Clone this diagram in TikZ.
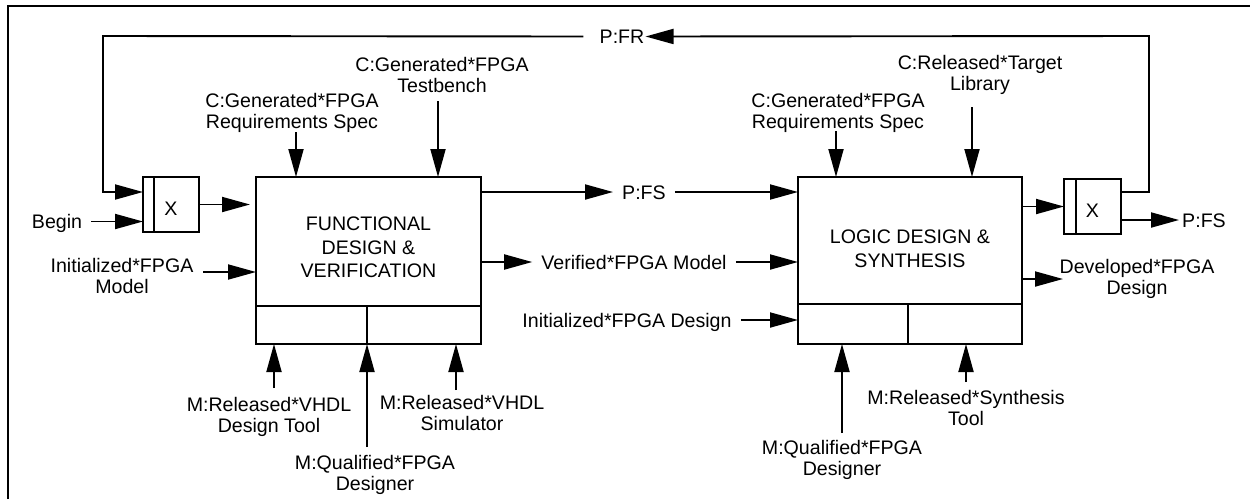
\documentclass[tikz,border=0pt]{standalone}
\usepackage{fontspec}
\setmainfont{Liberation Sans}
\usetikzlibrary{arrows.meta}

\tikzset{
  lbl/.style={align=center, inner sep=0pt, font=\fontsize{19.6pt}{21pt}\selectfont},
  lbl1/.style={lbl, text height=14pt, text depth=0pt},
  mid/.style={lbl1, inner xsep=9pt},
  ttl/.style={lbl, font=\fontsize{19.6pt}{23.5pt}\selectfont},
  blk/.style={draw, line width=1.9pt, inner sep=0pt, outer sep=0pt},
  ln/.style={line width=1.9pt},
  arr/.style={ln, -{Triangle[length=28pt, width=15pt]}}
}

\begin{document}
\begin{tikzpicture}[x=1pt, y=-1pt]
\useasboundingbox (0,0) rectangle (1250,499);
%\draw[step=50,gray,very thin] (0,0) grid (1250,499);

\draw[ln] (8,499) -- (8,6) -- (1250,6);

% activity boxes
\node[blk, minimum width=225pt, minimum height=167pt] (fdv) at (368.5,260.5) {};
\draw[ln] ([yshift=38pt]fdv.south west) -- ([yshift=38pt]fdv.south east);
\draw[ln] ([xshift=111pt]fdv.south west) -- ([xshift=111pt,yshift=38pt]fdv.south west);
\node[ttl, anchor=north] (fdvt) at (368.5,217) {FUNCTIONAL\\DESIGN \&\\VERIFICATION};

\node[blk, minimum width=224pt, minimum height=167pt] (lds) at (910,260.5) {};
\draw[ln] ([yshift=40pt]lds.south west) -- ([yshift=40pt]lds.south east);
\draw[ln] ([xshift=110pt]lds.south west) -- ([xshift=110pt,yshift=40pt]lds.south west);
\node[ttl, anchor=north] (ldst) at (910,230) {LOGIC DESIGN \&\\SYNTHESIS};

% junction boxes
\node[blk, lbl, text height=22pt, text depth=0pt, minimum width=56pt, minimum height=55pt] (xl) at (171,204.5) {X};
\draw[ln] ([xshift=11pt]xl.north west) -- ([xshift=11pt]xl.south west);
\node[blk, lbl, text height=22pt, text depth=0pt, minimum width=57pt, minimum height=55pt] (xr) at (1092.5,206.5) {X};
\draw[ln] ([xshift=12pt]xr.north west) -- ([xshift=12pt]xr.south west);

% feedback loop
\coordinate (fbL) at (103,36);
\coordinate (fbR) at (1149,36);
\coordinate (fbin) at (143,192);
\coordinate (xrout) at (1121,192);
\node[lbl1, inner xsep=1pt] (fr) at (622,36.5) {P:FR};
\draw[arr] ([xshift=-15pt]fr.west) -- (fbL) |- (fbin);
\draw[arr] (xrout) -| (fbR) -- (fr.east);

\node[mid] (begin) at (57,221.5) {Begin};
\draw[arr] (begin.east) -- (begin.east -| xl.west);
\draw[arr] (xl.east) -- ([xshift=-6pt]xl.east -| fdv.west);

\node[lbl, anchor=north] (imod) at (122,258) {Initialized*FPGA\\Model};
\coordinate (imA) at (203,272);
\draw[arr] (imA) -- (imA -| fdv.west);

% controls
\node[lbl, anchor=north] (rqa) at (292,93) {C:Generated*FPGA\\Requirements Spec};
\coordinate (rqA) at (296,132);
\draw[arr] (rqA) -- (rqA |- fdv.north);
\node[lbl, anchor=north] (tba) at (442,57) {C:Generated*FPGA\\Testbench};
\coordinate (tbA) at (438,101);
\draw[arr] (tbA) -- (tbA |- fdv.north);
\node[lbl, anchor=north] (rqb) at (838,93) {C:Generated*FPGA\\Requirements Spec};
\coordinate (rqB) at (836,131);
\draw[arr] (rqB) -- (rqB |- lds.north);
\node[lbl, anchor=north] (tlb) at (980,55) {C:Released*Target\\Library};
\coordinate (tlB) at (972,107);
\draw[arr] (tlB) -- (tlB |- lds.north);

% mechanisms
\node[lbl, anchor=north] (dta) at (269,397) {M:Released*VHDL\\Design Tool};
\coordinate (dtA) at (274,388);
\draw[arr] (dtA) -- (dtA |- fdv.south);
\node[lbl, anchor=north] (qda) at (375,455) {M:Qualified*FPGA\\Designer};
\coordinate (qdA) at (367,447);
\draw[arr] (qdA) -- (qdA |- fdv.south);
\node[lbl, anchor=north] (sma) at (462,395) {M:Released*VHDL\\Simulator};
\coordinate (smA) at (456,390);
\draw[arr] (smA) -- (smA |- fdv.south);
\node[lbl, anchor=north] (qdb) at (842,440) {M:Qualified*FPGA\\Designer};
\coordinate (qdB) at (842,433);
\draw[arr] (qdB) -- (qdB |- lds.south);
\node[lbl, anchor=north] (syb) at (966,390) {M:Released*Synthesis\\Tool};
\coordinate (syB) at (966,382);
\draw[arr] (syB) -- (syB |- lds.south);

% flows between activities
\node[mid] (pfs) at (644,192) {P:FS};
\draw[arr] (pfs.west -| fdv.east) -- (pfs.west);
\draw[arr] (pfs.east) -- (pfs.east -| lds.west);
\node[mid] (ver) at (634,262) {Verified*FPGA Model};
\draw[arr] (ver.west -| fdv.east) -- (ver.west);
\draw[arr] (ver.east) -- (ver.east -| lds.west);
\node[mid] (ides) at (627,320) {Initialized*FPGA Design};
\draw[arr] (ides.east) -- (ides.east -| lds.west);

% outputs
\draw[arr] (lds.east |- xr.west) -- (xr.west);
\node[lbl1, inner xsep=3pt] (pfs2) at (1204,220) {P:FS};
\draw[arr] (pfs2.west -| xr.east) -- (pfs2.west);
\node[lbl, anchor=north] (dev) at (1137,259) {Developed*FPGA\\Design};
\coordinate (dvB) at (1063,279);
\draw[arr] (dvB -| lds.east) -- (dvB);

\end{tikzpicture}
\end{document}
